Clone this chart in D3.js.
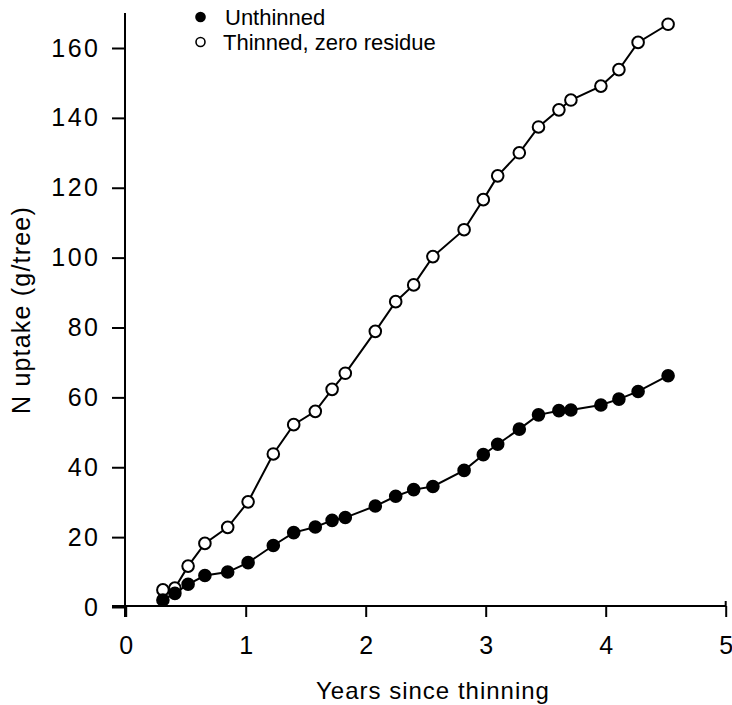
<!DOCTYPE html>
<html>
<head>
<meta charset="utf-8">
<script src="https://cdn.jsdelivr.net/npm/d3@7"></script>
<style>
  body { margin: 0; background: #fff; }
  text { font-family: "Liberation Sans", Arial, sans-serif; fill: #000; }
</style>
</head>
<body>
<div id="chart"></div>
<script>
// years since thinning (same sampling dates for both treatments)
var years = [0.31, 0.41, 0.52, 0.66, 0.85, 1.02, 1.23, 1.40, 1.58, 1.72, 1.83, 2.08, 2.25,
             2.40, 2.56, 2.82, 2.98, 3.10, 3.28, 3.44, 3.61, 3.71, 3.96, 4.11, 4.27, 4.52];
var unthinned = [2.0, 3.9, 6.5, 9.0, 10.0, 12.7, 17.6, 21.3, 22.9, 24.8, 25.6, 28.9, 31.7,
                 33.6, 34.5, 39.1, 43.6, 46.6, 50.9, 55.0, 56.2, 56.4, 57.8, 59.5, 61.7, 66.2];
var thinned = [4.9, 5.4, 11.7, 18.2, 22.8, 30.1, 43.8, 52.2, 56.0, 62.3, 66.9, 78.9, 87.4,
               92.2, 100.3, 108.0, 116.6, 123.4, 130.0, 137.4, 142.3, 145.1, 149.1, 153.8, 161.6, 166.8];
var xTicks = [0, 1, 2, 3, 4, 5];
var yTicks = [0, 20, 40, 60, 80, 100, 120, 140, 160];
var seriesNames = ["Unthinned", "Thinned, zero residue"];

var width = 732, height = 705;

var x = d3.scaleLinear().domain([0, 5]).range([125.7, 725.7]);
var y = d3.scaleLinear().domain([0, 160]).range([607, 48]);

var svg = d3.select("#chart").append("svg")
    .attr("width", width)
    .attr("height", height);

// y axis
var yAxis = svg.append("g")
    .attr("transform", "translate(125,0)")
    .call(d3.axisLeft(y).tickValues(yTicks).tickFormat(d3.format("d"))
        .tickSize(13).tickPadding(14).tickSizeOuter(0));
yAxis.select(".domain").remove();
yAxis.append("line").attr("x1", 0).attr("x2", 0).attr("y1", 13).attr("y2", 617)
    .attr("stroke", "#000").attr("stroke-width", 2);
yAxis.selectAll(".tick line").attr("stroke-width", 2);
yAxis.selectAll(".tick text").attr("font-size", 25).attr("letter-spacing", 2.5).attr("dx", 2.5);

// x axis
var xAxis = svg.append("g")
    .attr("transform", "translate(0,606)")
    .call(d3.axisBottom(x).tickValues(xTicks).tickFormat(d3.format("d"))
        .tickSize(11).tickPadding(19).tickSizeOuter(0));
xAxis.select(".domain").remove();
xAxis.append("line").attr("x1", 112).attr("x2", 726).attr("y1", 0).attr("y2", 0)
    .attr("stroke", "#000").attr("stroke-width", 2);
xAxis.append("line").attr("x1", x(5)).attr("x2", x(5)).attr("y1", -5).attr("y2", 0)
    .attr("stroke", "#000").attr("stroke-width", 2);
xAxis.selectAll(".tick line").attr("stroke-width", 2);
xAxis.selectAll(".tick text").attr("font-size", 25);

// axis titles
svg.append("text")
    .attr("x", 433).attr("y", 699)
    .attr("text-anchor", "middle")
    .attr("font-size", 24)
    .attr("letter-spacing", 1)
    .text("Years since thinning");

svg.append("text")
    .attr("transform", "translate(30,310) rotate(-90)")
    .attr("text-anchor", "middle")
    .attr("font-size", 25)
    .attr("letter-spacing", 1.2)
    .text("N uptake (g/tree)");

// lines and markers
var line = d3.line()
    .x(function(d, i) { return x(years[i]); })
    .y(function(d) { return y(d); });

var series = [
    {values: thinned, fill: "#fff"},
    {values: unthinned, fill: "#000"}
];

series.forEach(function(s) {
    svg.append("path")
        .datum(s.values)
        .attr("fill", "none")
        .attr("stroke", "#000")
        .attr("stroke-width", 2)
        .attr("d", line);

    svg.selectAll(null)
        .data(s.values)
        .enter().append("circle")
        .attr("cx", function(d, i) { return x(years[i]); })
        .attr("cy", function(d) { return y(d); })
        .attr("r", 5.8)
        .attr("fill", s.fill)
        .attr("stroke", "#000")
        .attr("stroke-width", 2);
});

// legend
var legend = svg.append("g");
legend.append("circle").attr("cx", 200.5).attr("cy", 17).attr("r", 5.3)
    .attr("fill", "#000");
legend.append("circle").attr("cx", 200.5).attr("cy", 42).attr("r", 4.5)
    .attr("fill", "#fff").attr("stroke", "#000").attr("stroke-width", 1.6);
legend.append("text").attr("x", 225).attr("y", 25).attr("font-size", 22).text(seriesNames[0]);
legend.append("text").attr("x", 223).attr("y", 50).attr("font-size", 22).text(seriesNames[1]);
</script>
</body>
</html>
